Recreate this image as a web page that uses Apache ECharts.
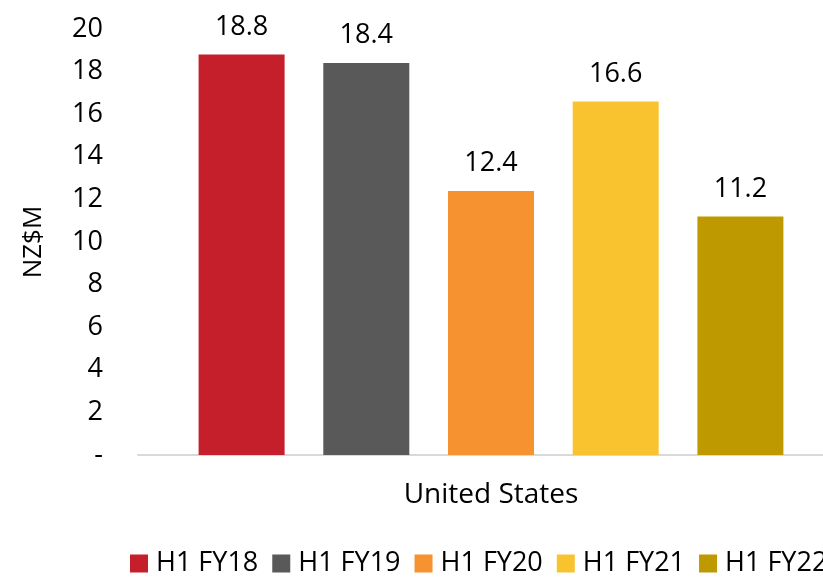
<!DOCTYPE html>
<html><head><meta charset="utf-8">
<script src="https://cdn.jsdelivr.net/npm/echarts@6/dist/echarts.min.js"></script>
<style>html,body{margin:0;padding:0;background:#fff}#c{width:823px;height:578px}</style>
</head><body><div id="c"></div>
<script>
const categories = ['United States'];
const seriesNames = ['H1 FY18','H1 FY19','H1 FY20','H1 FY21','H1 FY22'];
const seriesValues = [[18.8],[18.4],[12.4],[16.6],[11.2]];
const colors = ['#C51F2C','#595959','#F79230','#F9C330','#BF9900'];
const yTicks = {min:0, max:20, interval:2};
const font = 'Open Sans, Liberation Sans, sans-serif';
const chart = echarts.init(document.getElementById('c'));
chart.setOption({
  animation:false,
  grid:{left:138, top:29, right:-21, height:426, containLabel:false, outerBoundsMode:'none'},
  legend:{left:130, top:550, width:1200, padding:0, itemWidth:18, itemHeight:18, itemGap:14,
    icon:'rect', textStyle:{fontSize:27, color:'#000', fontFamily:font, padding:[0,0,0,3]},
    data:seriesNames},
  xAxis:{type:'category', data:categories,
    axisLine:{lineStyle:{color:'#d9d9d9', width:2}}, axisTick:{show:false},
    axisLabel:{fontSize:28, color:'#000', fontFamily:font, margin:26}},
  yAxis:{type:'value', min:yTicks.min, max:yTicks.max, interval:yTicks.interval,
    name:'NZ$M', nameLocation:'middle', nameGap:91, nameRotate:90,
    nameTextStyle:{fontSize:26, color:'#000', fontFamily:font},
    splitLine:{show:false}, axisLine:{show:false}, axisTick:{show:false},
    axisLabel:{fontSize:27, color:'#000', fontFamily:font, margin:35,
      formatter:v=>v===0?'-':String(v)}},
  series: seriesNames.map((n,i)=>({
    name:n, type:'bar', data:seriesValues[i], barWidth:86, barGap:'45%',
    itemStyle:{color:colors[i]},
    label:{show:true, position:'top', distance:14, fontSize:27, color:'#000', fontFamily:font,
      formatter:p=>p.value.toFixed(1)}
  }))
});
</script></body></html>
